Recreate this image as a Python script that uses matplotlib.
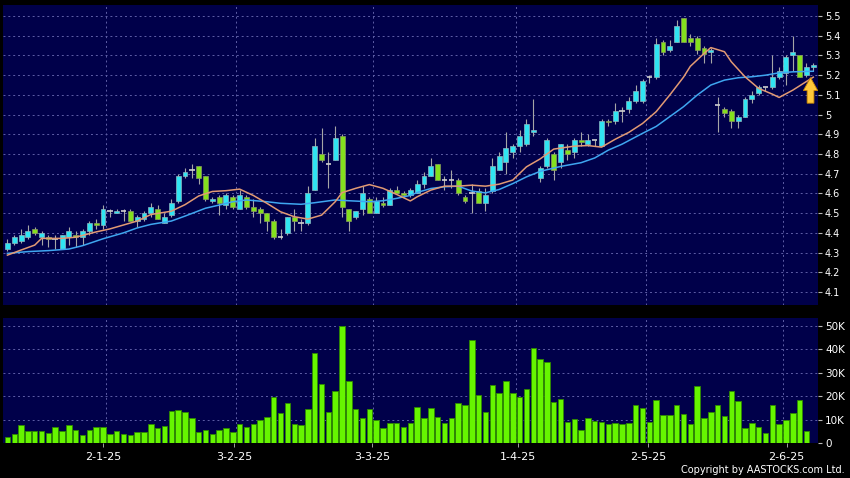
import numpy as np
import matplotlib.pyplot as plt
from matplotlib.patches import FancyArrow

# daily candles (HKD)
opens = [4.32, 4.35, 4.36, 4.38, 4.42, 4.38, 4.38, 4.37, 4.32, 4.38,
         4.39, 4.38, 4.41, 4.45, 4.44, 4.51, 4.50, 4.51, 4.51, 4.46,
         4.47, 4.50, 4.52, 4.45, 4.49, 4.56, 4.69, 4.72, 4.74, 4.69,
         4.56, 4.58, 4.54, 4.58, 4.52, 4.58, 4.53, 4.52, 4.50, 4.46,
         4.38, 4.40, 4.48, 4.45, 4.45, 4.62, 4.80, 4.75, 4.77, 4.89,
         4.52, 4.48, 4.52, 4.57, 4.50, 4.55, 4.54, 4.62, 4.60, 4.59,
         4.60, 4.65, 4.69, 4.75, 4.67, 4.67, 4.67, 4.58, 4.60, 4.61,
         4.55, 4.61, 4.72, 4.76, 4.81, 4.84, 4.85, 4.91, 4.68, 4.74,
         4.80, 4.76, 4.82, 4.81, 4.87, 4.85, 4.87, 4.84, 4.97, 4.97,
         5.02, 5.03, 5.07, 5.07, 5.19, 5.19, 5.37, 5.33, 5.37, 5.49,
         5.39, 5.39, 5.34, 5.32, 5.05, 5.03, 5.02, 4.97, 4.99, 5.08,
         5.11, 5.14, 5.14, 5.19, 5.21, 5.30, 5.30, 5.20, 5.24]
highs = [4.37, 4.39, 4.42, 4.44, 4.43, 4.41, 4.39, 4.39, 4.39, 4.43,
         4.41, 4.42, 4.46, 4.47, 4.54, 4.52, 4.52, 4.52, 4.52, 4.49,
         4.51, 4.55, 4.54, 4.50, 4.57, 4.70, 4.73, 4.75, 4.74, 4.69,
         4.58, 4.59, 4.60, 4.59, 4.62, 4.59, 4.57, 4.53, 4.50, 4.47,
         4.42, 4.48, 4.52, 4.47, 4.64, 4.88, 4.93, 4.81, 4.94, 4.90,
         4.52, 4.51, 4.64, 4.58, 4.58, 4.58, 4.63, 4.64, 4.61, 4.63,
         4.67, 4.71, 4.78, 4.75, 4.69, 4.72, 4.68, 4.59, 4.65, 4.63,
         4.63, 4.78, 4.81, 4.91, 4.85, 4.92, 4.98, 5.08, 4.74, 4.88,
         4.81, 4.85, 4.85, 4.88, 4.91, 4.90, 4.87, 4.98, 4.98, 5.06,
         5.04, 5.09, 5.15, 5.18, 5.20, 5.39, 5.38, 5.38, 5.48, 5.49,
         5.41, 5.40, 5.35, 5.34, 5.09, 5.04, 5.03, 5.00, 5.09, 5.12,
         5.15, 5.14, 5.30, 5.24, 5.30, 5.40, 5.30, 5.26, 5.26]
lows = [4.31, 4.34, 4.35, 4.37, 4.39, 4.34, 4.33, 4.32, 4.32, 4.34,
        4.33, 4.34, 4.39, 4.42, 4.42, 4.48, 4.50, 4.46, 4.46, 4.43,
        4.46, 4.48, 4.47, 4.45, 4.48, 4.55, 4.68, 4.68, 4.65, 4.56,
        4.55, 4.49, 4.52, 4.52, 4.52, 4.52, 4.48, 4.45, 4.41, 4.37,
        4.37, 4.39, 4.41, 4.41, 4.44, 4.62, 4.76, 4.63, 4.77, 4.48,
        4.41, 4.47, 4.49, 4.50, 4.50, 4.53, 4.54, 4.60, 4.58, 4.58,
        4.60, 4.63, 4.69, 4.67, 4.62, 4.63, 4.59, 4.55, 4.50, 4.55,
        4.51, 4.60, 4.72, 4.70, 4.78, 4.81, 4.84, 4.89, 4.66, 4.73,
        4.67, 4.73, 4.77, 4.78, 4.84, 4.84, 4.84, 4.84, 4.94, 4.95,
        4.96, 5.01, 5.06, 5.06, 5.16, 5.18, 5.30, 5.32, 5.37, 5.37,
        5.35, 5.31, 5.26, 5.26, 4.91, 4.99, 4.93, 4.93, 4.99, 5.06,
        5.10, 5.12, 5.13, 5.18, 5.15, 5.22, 5.19, 5.19, 5.22]
closes = [4.35, 4.38, 4.39, 4.41, 4.40, 4.40, 4.37, 4.37, 4.39, 4.41,
          4.38, 4.41, 4.45, 4.44, 4.52, 4.51, 4.51, 4.51, 4.46, 4.48,
          4.50, 4.53, 4.47, 4.48, 4.55, 4.69, 4.71, 4.72, 4.68, 4.57,
          4.57, 4.55, 4.59, 4.53, 4.59, 4.53, 4.51, 4.50, 4.46, 4.38,
          4.38, 4.48, 4.46, 4.45, 4.60, 4.84, 4.77, 4.75, 4.88, 4.53,
          4.46, 4.51, 4.60, 4.50, 4.56, 4.54, 4.62, 4.60, 4.59, 4.62,
          4.65, 4.69, 4.74, 4.67, 4.67, 4.67, 4.60, 4.56, 4.60, 4.55,
          4.59, 4.74, 4.79, 4.83, 4.84, 4.89, 4.95, 4.92, 4.73, 4.87,
          4.72, 4.85, 4.80, 4.87, 4.86, 4.87, 4.87, 4.97, 4.96, 5.02,
          5.02, 5.07, 5.12, 5.17, 5.19, 5.36, 5.32, 5.35, 5.45, 5.37,
          5.37, 5.33, 5.31, 5.33, 5.05, 5.01, 4.97, 4.99, 5.08, 5.10,
          5.14, 5.14, 5.19, 5.22, 5.29, 5.32, 5.19, 5.24, 5.25]
# volume in thousands of shares
volumes = [2.8, 4.1, 7.9, 5.4, 5.2, 5.1, 4.4, 6.9, 5.4, 7.6,
           5.8, 3.7, 5.8, 6.8, 6.9, 3.9, 5.1, 3.9, 3.4, 4.6,
           4.8, 8.2, 6.6, 7.5, 13.8, 14.2, 13.1, 10.6, 4.8, 5.6,
           3.9, 5.8, 6.5, 4.8, 8.2, 6.8, 8.2, 10.1, 11.1, 19.7,
           12.7, 16.9, 8.2, 7.9, 14.5, 38.2, 25.1, 13.2, 22.1, 50.0,
           26.6, 14.5, 10.8, 14.6, 9.9, 6.5, 8.7, 8.6, 7.0, 8.7,
           15.5, 10.6, 14.9, 11.1, 8.5, 10.7, 16.9, 16.1, 44.0, 20.4,
           13.1, 24.6, 21.5, 26.5, 21.5, 19.6, 23.2, 40.6, 35.6, 34.5,
           17.6, 18.9, 9.0, 10.4, 5.8, 10.6, 9.4, 8.9, 8.0, 8.6,
           8.3, 8.5, 16.3, 14.8, 9.0, 18.2, 12.0, 12.1, 16.1, 12.4,
           8.2, 24.5, 10.7, 13.4, 16.1, 11.5, 22.0, 18.0, 6.5, 8.5,
           7.0, 4.5, 16.1, 8.2, 9.7, 12.8, 18.3, 5.1, 0.3]

# moving average lines, sampled off the chart (candle index, value)
ma_short_idx = [0, 2, 4, 5, 8, 10, 13, 15, 17, 19, 21, 24, 26, 28, 30, 32, 34,
                36, 38, 40, 42, 44, 46, 48, 49, 51, 53, 55, 57, 59, 60, 62, 64,
                66, 68, 70, 72, 74, 76, 78, 80, 83, 85, 87, 89, 91, 93, 95, 97,
                99, 100, 102, 103, 105, 106, 108, 110, 112, 113, 115, 118]
ma_short_val = [4.287, 4.313, 4.338, 4.372, 4.372, 4.378, 4.405, 4.42, 4.44,
                4.46, 4.493, 4.51, 4.543, 4.587, 4.61, 4.614, 4.622, 4.59, 4.55,
                4.507, 4.482, 4.47, 4.49, 4.558, 4.604, 4.626, 4.645, 4.626,
                4.595, 4.562, 4.583, 4.617, 4.637, 4.637, 4.642, 4.637, 4.647,
                4.668, 4.735, 4.775, 4.825, 4.84, 4.843, 4.835, 4.875, 4.91,
                4.955, 5.015, 5.10, 5.19, 5.245, 5.31, 5.34, 5.319, 5.268,
                5.192, 5.133, 5.104, 5.087, 5.124, 5.19]
ma_long_idx = [0, 3, 6, 9, 11, 14, 17, 19, 21, 24, 26, 29, 31, 33, 35, 38, 40,
               43, 45, 48, 50, 53, 55, 57, 59, 60, 62, 64, 66, 68, 70, 72, 74,
               76, 78, 81, 84, 86, 88, 90, 93, 95, 97, 99, 101, 103, 105, 107,
               109, 111, 113, 115, 118]
ma_long_val = [4.296, 4.305, 4.31, 4.318, 4.335, 4.37, 4.40, 4.425, 4.443,
               4.46, 4.485, 4.525, 4.541, 4.558, 4.567, 4.558, 4.55, 4.545,
               4.553, 4.567, 4.563, 4.558, 4.563, 4.575, 4.59, 4.605, 4.625,
               4.634, 4.637, 4.612, 4.603, 4.62, 4.65, 4.684, 4.712, 4.737,
               4.756, 4.78, 4.82, 4.85, 4.905, 4.94, 4.99, 5.04, 5.099, 5.15,
               5.175, 5.187, 5.192, 5.20, 5.212, 5.217, 5.22]

grid_at = [14.5, 33.5, 53.5, 74.5, 93.5, 113.5]
date_at = [14.0, 33.2, 53.4, 74.7, 93.8, 114.1]
date_labels = ["2-1-25", "3-2-25", "3-3-25", "1-4-25", "2-5-25", "2-6-25"]
price_ticks = [5.5, 5.4, 5.3, 5.2, 5.1, 5.0, 4.9, 4.8, 4.7, 4.6, 4.5, 4.4, 4.3, 4.2, 4.1]
price_labels = ["5.5", "5.4", "5.3", "5.2", "5.1", "5", "4.9", "4.8", "4.7",
                "4.6", "4.5", "4.4", "4.3", "4.2", "4.1"]
vol_ticks = [0, 10, 20, 30, 40, 50]
vol_labels = ["0", "10K", "20K", "30K", "40K", "50K"]
signal_at = 117.6  # the yellow arrow

NAVY = "#00004a"
GRID = "#5e5ea6"
CYAN = "#30e4f2"
GREEN = "#84e01e"

fig = plt.figure(figsize=(8.5, 4.78), dpi=100, facecolor="black")
ax = fig.add_axes([0.0039, 0.3619, 0.9585, 0.6276])
axv = fig.add_axes([0.0039, 0.0726, 0.9585, 0.2621], sharex=ax)

for a in (ax, axv):
    a.set_facecolor(NAVY)
    for s in a.spines.values():
        s.set_visible(False)
    a.yaxis.tick_right()
    a.set_xticks(grid_at)
    a.set_xticks(date_at, minor=True)
    a.grid(True, which="major", color=GRID, linestyle=(0, (2, 3)), linewidth=0.7)
    a.tick_params(axis="x", which="major", length=0, labelbottom=False)
    a.tick_params(axis="x", which="minor", length=0, labelbottom=False)
    a.set_axisbelow(True)

# candles
x = np.arange(len(opens))
o = np.array(opens)
h = np.array(highs)
l = np.array(lows)
c = np.array(closes)
up = c > o
down = c < o
flat = c == o

ax.vlines(x, l, h, color="#a6a6a6", linewidth=0.8, zorder=2)
ax.bar(x[up], (c - o)[up], bottom=o[up], width=0.72, color=CYAN,
       edgecolor="#8fb8c0", linewidth=0.5, zorder=3)
ax.bar(x[down], (o - c)[down], bottom=c[down], width=0.72, color=GREEN,
       edgecolor="#8a9a60", linewidth=0.5, zorder=3)
ax.hlines(c[flat], x[flat] - 0.4, x[flat] + 0.4, color="#cfcfcf", linewidth=1.2, zorder=3)

# moving averages
ax.plot(ma_long_idx, ma_long_val, color="#3fa6f0", linewidth=1.1, zorder=4)
ax.plot(ma_short_idx, ma_short_val, color="#e29a74", linewidth=1.1, zorder=4)

ax.add_patch(FancyArrow(signal_at, 5.058, 0, 0.13, width=1.0, head_width=2.1,
                        head_length=0.066, length_includes_head=True,
                        fc="#ffc83a", ec="#c88400", linewidth=0.6, zorder=6))

ax.set_xlim(-0.6, 118.7)
ax.set_ylim(4.034, 5.556)
ax.set_yticks(price_ticks)
ax.set_yticklabels(price_labels)
ax.tick_params(axis="y", direction="out", length=3, color="#bbbbbb",
               labelcolor="white", labelsize=7, pad=2)

# volume
axv.bar(x, volumes, width=0.8, color="#66f500", edgecolor="#2f8a00", linewidth=0.6, zorder=3)
axv.set_ylim(0, 53.2)
axv.set_yticks(vol_ticks)
axv.set_yticklabels(vol_labels)
axv.tick_params(axis="y", direction="out", length=3, color="#bbbbbb",
                labelcolor="white", labelsize=7.5, pad=2)
axv.set_xticklabels(date_labels, minor=True)
axv.tick_params(axis="x", which="minor", direction="out", length=3, color="#bbbbbb",
                labelcolor="white", labelsize=8, pad=3, labelbottom=True)

fig.text(0.994, 0.006, "Copyright by AASTOCKS.com Ltd.", ha="right", va="bottom",
         color="white", fontsize=7, family=["Liberation Sans Narrow", "DejaVu Sans"])

fig.savefig("out.png", dpi=100, facecolor="black")
